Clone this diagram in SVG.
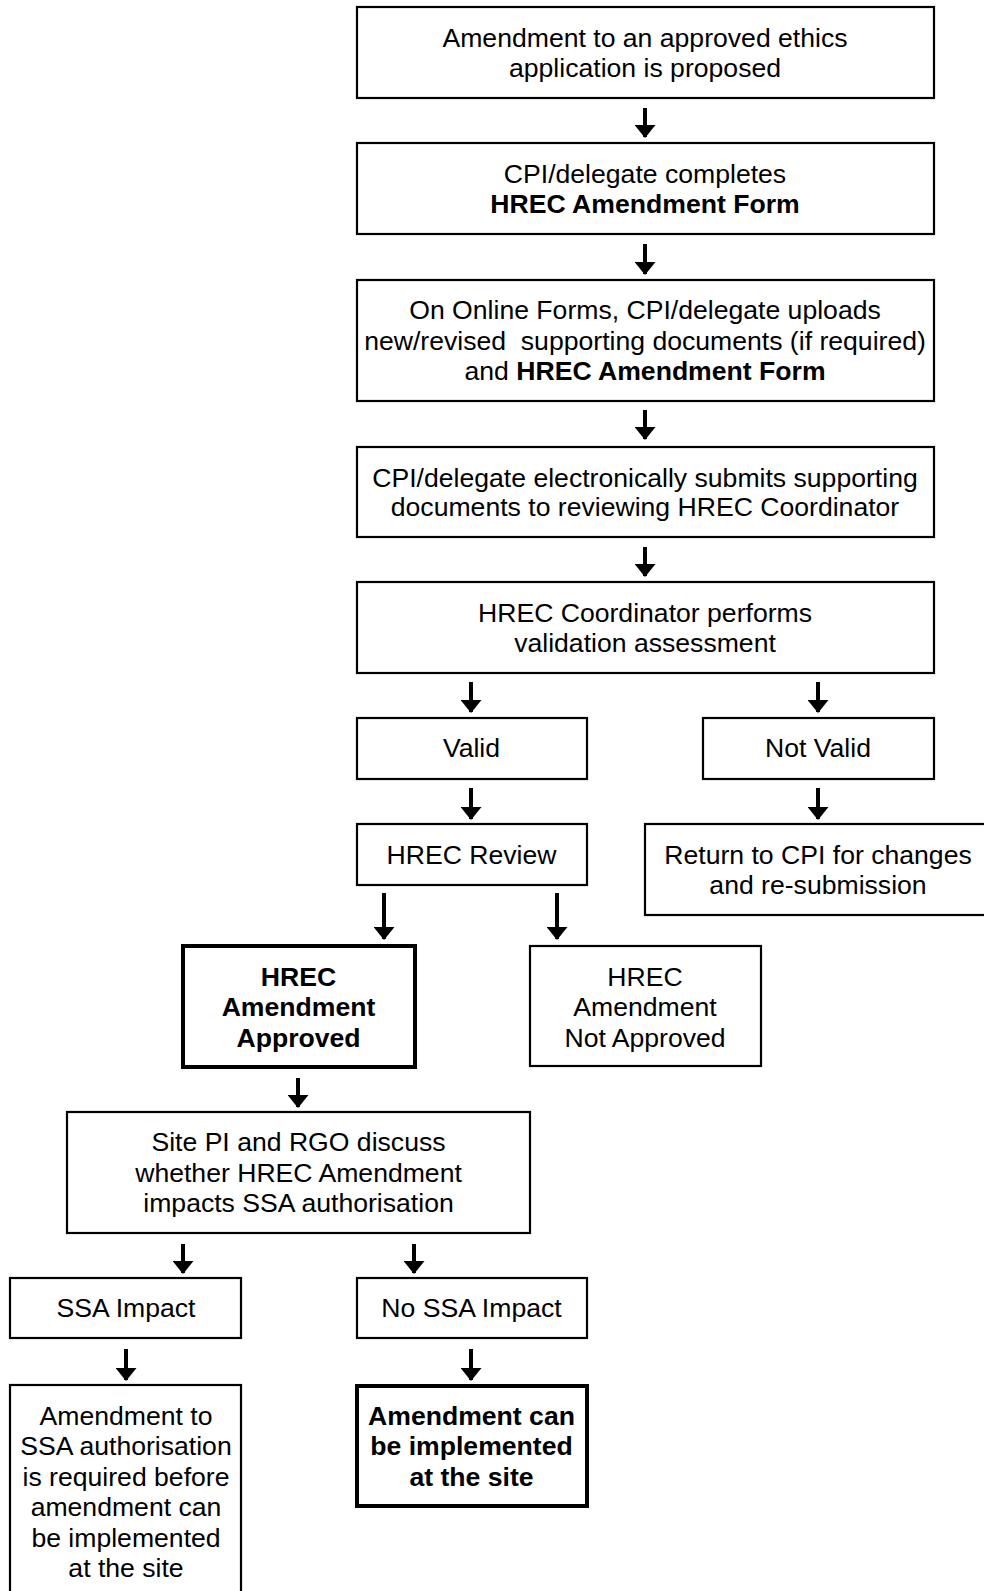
<svg xmlns="http://www.w3.org/2000/svg" width="984" height="1591" viewBox="0 0 984 1591">
<style>
.box{fill:#fff;stroke:#000;stroke-width:2.2}
.thick{fill:#fff;stroke:#000;stroke-width:4}
text{font-family:"Liberation Sans",Arial,sans-serif;font-size:26.6px;fill:#000;text-anchor:middle}
.b{font-weight:bold}
.arr{stroke:#000;stroke-width:4;fill:none}
</style>
<defs>
<marker id="head" markerUnits="userSpaceOnUse" markerWidth="13" markerHeight="21" refX="12" refY="10.5" orient="auto" viewBox="0 0 13 21">
<polygon points="0,0 13,10.5 0,21" fill="#000"/>
</marker>
</defs>
<rect width="984" height="1591" fill="#fff"/>
<g id="connectors">
<path class="arr" d="M645 108V137" marker-end="url(#head)"/>
<path class="arr" d="M645 244V274" marker-end="url(#head)"/>
<path class="arr" d="M645 410V439" marker-end="url(#head)"/>
<path class="arr" d="M645 547V576" marker-end="url(#head)"/>
<path class="arr" d="M471 682V712" marker-end="url(#head)"/>
<path class="arr" d="M818 682V712" marker-end="url(#head)"/>
<path class="arr" d="M471 788V819" marker-end="url(#head)"/>
<path class="arr" d="M818 788V819" marker-end="url(#head)"/>
<path class="arr" d="M384 893V939" marker-end="url(#head)"/>
<path class="arr" d="M557 893V939" marker-end="url(#head)"/>
<path class="arr" d="M298 1078V1107" marker-end="url(#head)"/>
<path class="arr" d="M183 1244V1273" marker-end="url(#head)"/>
<path class="arr" d="M414 1244V1273" marker-end="url(#head)"/>
<path class="arr" d="M126 1349V1380" marker-end="url(#head)"/>
<path class="arr" d="M471 1349V1380" marker-end="url(#head)"/>
</g>
<g id="n1"><rect class="box" x="357" y="7" width="577" height="91"/>
<text x="645" y="47">Amendment to an approved ethics</text><text x="645" y="77">application is proposed</text></g>
<g id="n2"><rect class="box" x="357" y="143" width="577" height="91"/>
<text x="645" y="183">CPI/delegate completes</text><text x="645" y="213" class="b">HREC Amendment Form</text></g>
<g id="n3"><rect class="box" x="357" y="280" width="577" height="121"/>
<text x="645" y="319">On Online Forms, CPI/delegate uploads</text><text x="645" y="350" xml:space="preserve">new/revised  supporting documents (if required)</text><text x="645" y="380">and <tspan class="b">HREC Amendment Form</tspan></text></g>
<g id="n4"><rect class="box" x="357" y="447" width="577" height="90"/>
<text x="645" y="487">CPI/delegate electronically submits supporting</text><text x="645" y="516">documents to reviewing HREC Coordinator</text></g>
<g id="n5"><rect class="box" x="357" y="582" width="577" height="91"/>
<text x="645" y="622">HREC Coordinator performs</text><text x="645" y="652">validation assessment</text></g>
<g id="n6"><rect class="box" x="357" y="718" width="230" height="61"/><text x="471.5" y="757">Valid</text></g>
<g id="n7"><rect class="box" x="703" y="718" width="231" height="61"/><text x="818" y="757">Not Valid</text></g>
<g id="n8"><rect class="box" x="357" y="824" width="230" height="61"/><text x="471.5" y="864">HREC Review</text></g>
<g id="n9"><rect class="box" x="645" y="824" width="350" height="91"/><text x="818" y="864">Return to CPI for changes</text><text x="818" y="894">and re-submission</text></g>
<g id="n10"><rect class="thick" x="183" y="946" width="232" height="121"/>
<text x="298.5" y="986" class="b">HREC</text><text x="298.5" y="1016" class="b">Amendment</text><text x="298.5" y="1047" class="b">Approved</text></g>
<g id="n11"><rect class="box" x="530" y="946" width="231" height="120"/>
<text x="645" y="986">HREC</text><text x="645" y="1016">Amendment</text><text x="645" y="1047">Not Approved</text></g>
<g id="n12"><rect class="box" x="67" y="1112" width="463" height="121"/>
<text x="298.5" y="1151">Site PI and RGO discuss</text><text x="298.5" y="1182">whether HREC Amendment</text><text x="298.5" y="1212">impacts SSA authorisation</text></g>
<g id="n13"><rect class="box" x="10" y="1278" width="231" height="60"/><text x="126" y="1317">SSA Impact</text></g>
<g id="n14"><rect class="box" x="357" y="1278" width="230" height="60"/><text x="471.5" y="1317">No SSA Impact</text></g>
<g id="n15"><rect class="box" x="10" y="1385" width="231" height="215"/>
<text x="126" y="1425">Amendment to</text><text x="126" y="1455">SSA authorisation</text><text x="126" y="1486">is required before</text><text x="126" y="1516">amendment can</text><text x="126" y="1547">be implemented</text><text x="126" y="1577">at the site</text></g>
<g id="n16"><rect class="thick" x="357" y="1386" width="230" height="120"/>
<text x="471.5" y="1425" class="b">Amendment can</text><text x="471.5" y="1455" class="b">be implemented</text><text x="471.5" y="1486" class="b">at the site</text></g>
</svg>
